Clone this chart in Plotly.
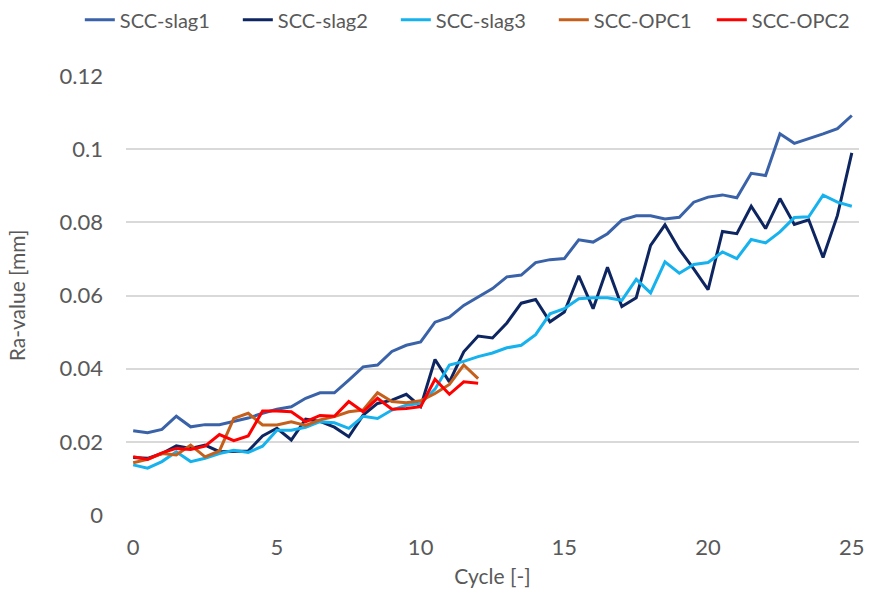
import plotly.graph_objects as go

cycles = [0, 0.5, 1, 1.5, 2, 2.5, 3, 3.5, 4, 4.5, 5, 5.5, 6, 6.5, 7, 7.5, 8, 8.5, 9, 9.5,
          10, 10.5, 11, 11.5, 12, 12.5, 13, 13.5, 14, 14.5, 15, 15.5, 16, 16.5, 17, 17.5,
          18, 18.5, 19, 19.5, 20, 20.5, 21, 21.5, 22, 22.5, 23, 23.5, 24, 24.5, 25]

slag1 = [0.0230, 0.0225, 0.0234, 0.0270, 0.0241, 0.0247, 0.0247, 0.0256, 0.0265, 0.0278,
         0.0289, 0.0296, 0.0319, 0.0334, 0.0334, 0.0369, 0.0405, 0.0410, 0.0447, 0.0464,
         0.0473, 0.0527, 0.0541, 0.0573, 0.0596, 0.0619, 0.0651, 0.0656, 0.0690, 0.0698,
         0.0701, 0.0752, 0.0746, 0.0769, 0.0806, 0.0818, 0.0818, 0.0809, 0.0814, 0.0855,
         0.0869, 0.0875, 0.0867, 0.0934, 0.0928, 0.1042, 0.1016, 0.1028, 0.1042, 0.1056,
         0.1092]

slag2 = [0.0157, 0.0155, 0.0168, 0.0189, 0.0182, 0.0191, 0.0173, 0.0175, 0.0175, 0.0216,
         0.0237, 0.0205, 0.0262, 0.0256, 0.0240, 0.0214, 0.0273, 0.0305, 0.0314, 0.0330,
         0.0296, 0.0425, 0.0364, 0.0446, 0.0489, 0.0484, 0.0525, 0.0579, 0.0589, 0.0528,
         0.0555, 0.0654, 0.0564, 0.0677, 0.0570, 0.0594, 0.0737, 0.0793, 0.0726, 0.0673,
         0.0616, 0.0775, 0.0769, 0.0844, 0.0783, 0.0865, 0.0794, 0.0807, 0.0704, 0.0819,
         0.0990]

slag3 = [0.0137, 0.0128, 0.0146, 0.0173, 0.0146, 0.0155, 0.0168, 0.0177, 0.0171, 0.0188,
         0.0232, 0.0232, 0.0240, 0.0255, 0.0252, 0.0237, 0.0270, 0.0264, 0.0287, 0.0300,
         0.0305, 0.0344, 0.0410, 0.0420, 0.0433, 0.0443, 0.0457, 0.0464, 0.0493, 0.0550,
         0.0564, 0.0591, 0.0594, 0.0594, 0.0587, 0.0644, 0.0607, 0.0692, 0.0661, 0.0685,
         0.0690, 0.0719, 0.0701, 0.0753, 0.0744, 0.0774, 0.0813, 0.0815, 0.0874, 0.0855,
         0.0844]

opc_cycles = [0, 0.5, 1, 1.5, 2, 2.5, 3, 3.5, 4, 4.5, 5, 5.5, 6, 6.5, 7, 7.5, 8, 8.5, 9,
              9.5, 10, 10.5, 11, 11.5, 12]

opc1 = [0.0143, 0.0152, 0.0168, 0.0164, 0.0191, 0.0159, 0.0175, 0.0264, 0.0278, 0.0246,
        0.0246, 0.0255, 0.0245, 0.0260, 0.0269, 0.0282, 0.0287, 0.0334, 0.0310, 0.0307,
        0.0312, 0.0332, 0.0357, 0.0410, 0.0373]

opc2 = [0.0159, 0.0152, 0.0170, 0.0182, 0.0179, 0.0188, 0.0220, 0.0203, 0.0216, 0.0284,
        0.0284, 0.0282, 0.0255, 0.0272, 0.0270, 0.0310, 0.0282, 0.0319, 0.0289, 0.0291,
        0.0296, 0.0371, 0.0330, 0.0364, 0.0360]

series = [
    ("SCC-slag1", cycles, slag1, "#3A62A8"),
    ("SCC-slag2", cycles, slag2, "#0D2560"),
    ("SCC-slag3", cycles, slag3, "#15B2EE"),
    ("SCC-OPC1", opc_cycles, opc1, "#C5601C"),
    ("SCC-OPC2", opc_cycles, opc2, "#FF0000"),
]

FONT = "Lato"
GREY = "#595959"

fig = go.Figure()
for name, xs, ys, col in series:
    fig.add_trace(go.Scatter(x=xs, y=ys, name=name, mode="lines",
                             line=dict(color=col, width=3)))

fig.update_layout(
    width=870, height=594,
    margin=dict(l=126, r=10.5, t=76, b=79, autoexpand=False),
    paper_bgcolor="white", plot_bgcolor="white",
    font=dict(family=FONT, size=21, color=GREY),
    showlegend=True,
    legend=dict(orientation="h", x=-0.063, xanchor="left", y=1.128, yanchor="middle",
                font=dict(family=FONT, size=20, color=GREY),
                entrywidth=113, entrywidthmode="pixels",
                bgcolor="rgba(0,0,0,0)"),
    xaxis=dict(range=[-0.25, 25.25], tickmode="array", tickvals=[0, 5, 10, 15, 20, 25],
               showgrid=False, zeroline=False, showline=False, ticks="",
               ticklabelstandoff=17,
               title=dict(text="Cycle [-]", standoff=10, font=dict(family=FONT, size=21, color=GREY)),
               tickfont=dict(family=FONT, size=22, color=GREY)),
    yaxis=dict(range=[0, 0.12], dtick=0.02, tick0=0, showgrid=True, gridcolor="#D9D9D9",
               gridwidth=1.5, zeroline=False, showline=False, ticks="",
               ticklabelstandoff=22,
               title=dict(text="Ra-value [mm]", standoff=28, font=dict(family=FONT, size=21, color=GREY)),
               tickfont=dict(family=FONT, size=22, color=GREY)),
)

fig.write_html("out.html")
